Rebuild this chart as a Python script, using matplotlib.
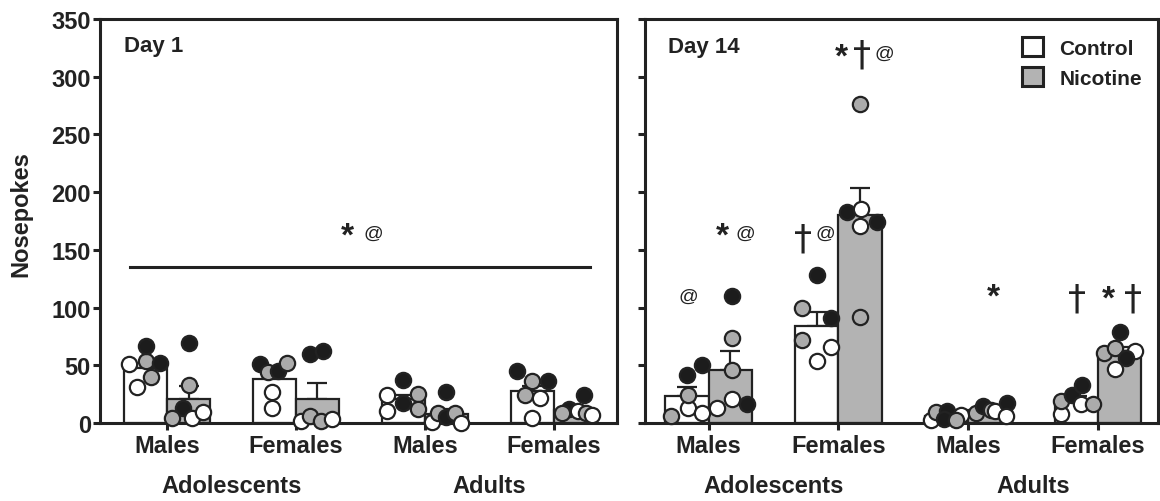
import matplotlib
matplotlib.use("Agg")
import matplotlib.pyplot as plt
from matplotlib.patches import Patch
import numpy as np

plt.rcParams['font.family'] = ['Liberation Sans', 'DejaVu Sans']
plt.rcParams['font.weight'] = 'bold'

#Groups
groups = ["Males", "Females", "Males", "Females"]
ages = ["Adolescents", "Adults"]

#Day 1 bars
d1_ctrl_mean = [48, 38, 21, 28]
d1_ctrl_sem = [4, 5, 3, 4]
d1_nic_mean = [21, 21, 8, 11]
d1_nic_sem = [11, 14, 4, 3]

#Day 1 dots (value, shade, jitter) per bar
d1_ctrl_vals = [[51, 54, 67, 52, 40, 31],
                [51, 44, 45, 52, 27, 13],
                [37, 24, 17, 25, 10, 12],
                [45, 36, 36, 24, 22, 4]]
d1_ctrl_shade = [["w", "g", "k", "k", "g", "w"],
                 ["k", "g", "k", "g", "w", "w"],
                 ["k", "w", "k", "g", "w", "g"],
                 ["k", "g", "k", "g", "w", "w"]]
d1_ctrl_jit = [[-0.127, 0, 0, 0.11, 0.04, -0.07],
               [-0.116, -0.05, 0.026, 0.096, -0.02, -0.02],
               [0, -0.124, 0, 0.11, -0.124, 0.114],
               [-0.12, 0, 0.12, -0.06, 0.057, 0]]

d1_nic_vals = [[69, 33, 13, 4, 4.4, 9.6],
               [60, 62.5, 1.5, 6.4, 1.5, 3.8],
               [27, 0.6, 8.4, 5.5, 8.4, 0],
               [24, 12, 8.4, 10.5, 9, 7]]
d1_nic_shade = [["k", "g", "k", "g", "w", "w"],
                ["k", "k", "w", "g", "g", "w"],
                ["k", "w", "g", "k", "g", "w"],
                ["k", "k", "g", "w", "g", "w"]]
d1_nic_jit = [[0, 0, -0.04, -0.125, 0.03, 0.11],
              [-0.057, 0.04, -0.13, -0.06, 0.026, 0.11],
              [0, -0.114, -0.062, 0, 0.067, 0.114],
              [0.07, -0.05, -0.1, 0.02, 0.08, 0.13]]

#Day 14 bars
d14_ctrl_mean = [23, 84, 6, 19.5]
d14_ctrl_sem = [8.5, 12, 1.5, 4]
d14_nic_mean = [46, 180, 11, 62]
d14_nic_sem = [16, 24, 2, 4]

d14_ctrl_vals = [[6, 13, 9, 24, 42, 50],
                 [100, 128, 91, 72, 66, 54],
                 [3, 9.5, 10, 3.5, 7, 3],
                 [8, 19, 24.5, 33, 16.5, 16.5]]
d14_ctrl_shade = [["g", "w", "w", "g", "k", "k"],
                  ["g", "k", "k", "g", "w", "w"],
                  ["w", "g", "k", "k", "w", "g"],
                  ["w", "g", "k", "k", "w", "g"]]
d14_ctrl_jit = [[-0.12, 0.01, 0.115, 0.01, 0, 0.115],
                [-0.115, 0, 0.11, -0.115, 0.11, 0],
                [-0.12, -0.08, 0, -0.02, 0.11, 0.07],
                [-0.12, -0.12, -0.035, 0.04, 0.035, 0.125]]

d14_nic_vals = [[13, 21, 16.5, 46, 74, 110],
                [182.5, 185, 171, 174, 91.5, 276],
                [8.6, 14.4, 11, 10, 17.5, 5.8],
                [78.5, 60.6, 64.7, 62, 56, 47]]
d14_nic_shade = [["w", "w", "k", "g", "g", "k"],
                 ["k", "w", "w", "k", "g", "g"],
                 ["g", "k", "g", "w", "k", "w"],
                 ["k", "g", "g", "w", "k", "w"]]
d14_nic_jit = [[-0.10, 0.01, 0.13, 0.01, 0.01, 0.01],
               [-0.10, 0.01, 0, 0.13, 0, 0],
               [-0.11, -0.055, 0.005, 0.04, 0.13, 0.12],
               [0, -0.12, -0.04, 0.12, 0.045, -0.04]]

#Significance marks (x, y, symbol)
d1_marks = [(1.40, 162, "*"), (1.60, 164, "@")]
d14_marks = [(-0.16, 110, "@"), (0.105, 162, "*"), (0.285, 164, "@"),
             (0.725, 160, "\u2020"), (0.90, 164, "@"),
             (1.02, 317, "*"), (1.18, 319, "\u2020"), (1.35, 320, "@"),
             (2.19, 109, "*"), (2.84, 108, "\u2020"),
             (3.08, 107, "*"), (3.27, 108, "\u2020")]

shade_col = {"w": "white", "g": "#ababab", "k": "#1c1c1c"}
ink = "#222222"
gray = "#b3b3b3"
bw = 0.333


def draw_panel(ax, ctrl_m, ctrl_s, nic_m, nic_s, cv, cs, cj, nv, ns, nj, marks, xlim):
    x = np.arange(len(groups))
    xc = x - bw / 2
    xn = x + bw / 2
    ax.bar(xc, ctrl_m, width=bw, color="white", edgecolor=ink, linewidth=1.6, zorder=2)
    ax.bar(xn, nic_m, width=bw, color=gray, edgecolor=ink, linewidth=1.6, zorder=2)
    ax.errorbar(xc, ctrl_m, yerr=[np.zeros(4), ctrl_s], fmt="none", ecolor=ink,
                elinewidth=1.6, capsize=7, capthick=1.6, zorder=1.9)
    ax.errorbar(xn, nic_m, yerr=[np.zeros(4), nic_s], fmt="none", ecolor=ink,
                elinewidth=1.6, capsize=7, capthick=1.6, zorder=1.9)
    for i in range(4):
        for centre, vals, shades, jit in ((xc[i], cv[i], cs[i], cj[i]), (xn[i], nv[i], ns[i], nj[i])):
            for v, s, j in zip(vals, shades, jit):
                ax.plot(centre + j, v, "o", ms=11, mfc=shade_col[s], mec=ink, mew=1.6,
                        zorder=3, clip_on=False)
    for mx, my, sym in marks:
        if sym == "*":
            ax.text(mx, my, sym, ha="center", va="center", fontsize=24, color=ink)
        elif sym == "@":
            ax.text(mx, my, sym, ha="center", va="center", fontsize=14, color=ink,
                    fontweight="normal")
        else:
            ax.text(mx, my, sym, ha="center", va="center", fontsize=26, color=ink,
                    fontweight="normal", family="DejaVu Sans")
    ax.set_xlim(*xlim)
    ax.set_ylim(0, 350)
    ax.set_yticks(np.arange(0, 351, 50))
    ax.set_xticks(x)
    ax.set_xticklabels(groups, fontsize=17, fontweight="bold")
    for sp in ax.spines.values():
        sp.set_linewidth(2.2)
        sp.set_color(ink)
    ax.tick_params(axis="both", width=2.2, length=5, color=ink, labelcolor=ink)
    ax.tick_params(axis="x", pad=3)
    ax.tick_params(axis="y", pad=1.5, labelsize=17)
    for k, age in enumerate(ages):
        ax.text(2 * k + 0.5, -0.155, age, transform=ax.get_xaxis_transform(),
                ha="center", va="center", fontsize=17, fontweight="bold", color=ink)


fig = plt.figure(figsize=(11.6, 5.02), dpi=100)
ax1 = fig.add_axes([0.0862, 0.1554, 0.4457, 0.8048])
ax2 = fig.add_axes([0.556, 0.1554, 0.4422, 0.8048])

draw_panel(ax1, d1_ctrl_mean, d1_ctrl_sem, d1_nic_mean, d1_nic_sem,
           d1_ctrl_vals, d1_ctrl_shade, d1_ctrl_jit,
           d1_nic_vals, d1_nic_shade, d1_nic_jit, d1_marks, (-0.52, 3.49))
draw_panel(ax2, d14_ctrl_mean, d14_ctrl_sem, d14_nic_mean, d14_nic_sem,
           d14_ctrl_vals, d14_ctrl_shade, d14_ctrl_jit,
           d14_nic_vals, d14_nic_shade, d14_nic_jit, d14_marks, (-0.49, 3.46))

#Day 1 main effect line
ax1.plot([-0.29, 3.28], [135, 135], color=ink, lw=2.2, zorder=1)

ax1.set_ylabel("Nosepokes", fontsize=17, fontweight="bold", color=ink)
ax1.yaxis.set_label_coords(-0.13, 0.52)
ax2.set_yticklabels([])

ax1.text(-0.333, 327, "Day 1", ha="left", va="center", fontsize=16, fontweight="bold", color=ink)
ax2.text(-0.316, 326, "Day 14", ha="left", va="center", fontsize=16, fontweight="bold", color=ink)

handles = [Patch(facecolor="white", edgecolor=ink, linewidth=2.2, label="Control"),
           Patch(facecolor=gray, edgecolor=ink, linewidth=2.2, label="Nicotine")]
leg = ax2.legend(handles=handles, loc="upper right", bbox_to_anchor=(0.985, 0.975),
                 frameon=False, fontsize=15, handlelength=1.0, handleheight=1.0,
                 handletextpad=0.8, labelspacing=0.45, borderaxespad=0)
for t in leg.get_texts():
    t.set_fontweight("bold")
    t.set_color(ink)

fig.savefig("out.png", dpi=100)
